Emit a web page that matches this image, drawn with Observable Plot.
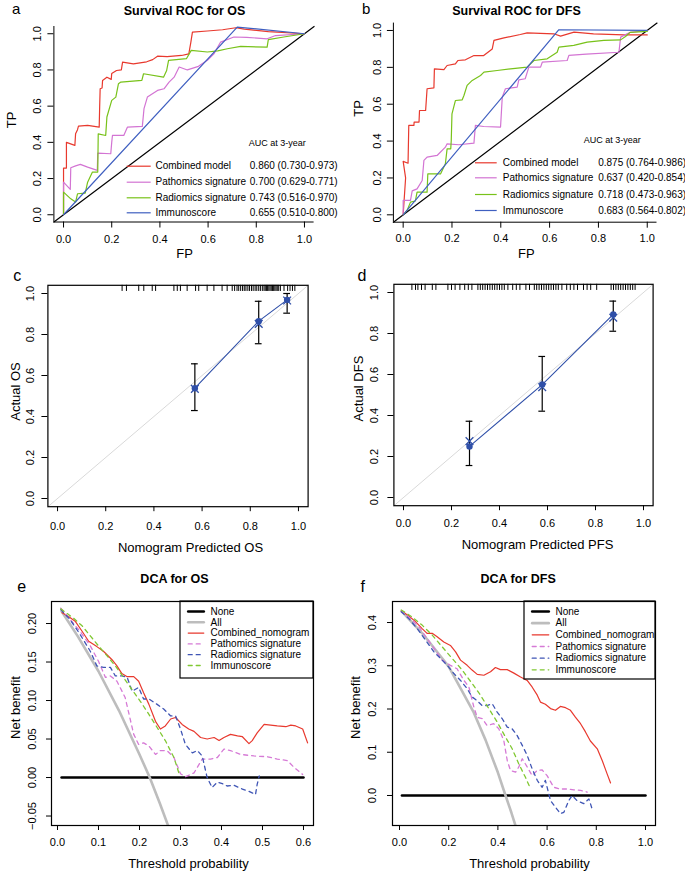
<!DOCTYPE html>
<html><head><meta charset="utf-8">
<script src="https://cdn.jsdelivr.net/npm/d3@7"></script>
<script src="https://cdn.jsdelivr.net/npm/@observablehq/plot@0.6"></script>
<style>
body{margin:0;background:#fff}
#root{position:relative;width:685px;height:872px;background:#fff;overflow:hidden}
#root svg{position:absolute;overflow:visible}
</style></head><body><div id="root"></div>
<script>
// ---------- DATA ----------
// Panel a: Survival ROC for OS  [FP, TP]
const rocOS_combined = [[0,0],[0,0.258],[0.012,0.258],[0.012,0.40],[0.047,0.383],[0.05,0.447],[0.058,0.47],[0.062,0.49],[0.10,0.494],[0.148,0.484],[0.15,0.60],[0.152,0.696],[0.16,0.70],[0.162,0.742],[0.18,0.76],[0.198,0.748],[0.20,0.78],[0.22,0.797],[0.24,0.80],[0.245,0.843],[0.29,0.834],[0.345,0.845],[0.37,0.857],[0.39,0.876],[0.43,0.874],[0.49,0.88],[0.52,0.889],[0.528,0.95],[0.535,1.009],[0.597,1.015],[0.66,1.022],[0.715,1.033],[0.75,1.025],[0.85,1.012],[1,1.0]];
const rocOS_pathomics = [[0,0],[0,0.18],[0.028,0.14],[0.03,0.26],[0.05,0.27],[0.07,0.278],[0.1,0.263],[0.14,0.245],[0.142,0.34],[0.196,0.337],[0.2,0.40],[0.203,0.438],[0.25,0.438],[0.265,0.484],[0.327,0.488],[0.334,0.586],[0.348,0.65],[0.39,0.687],[0.417,0.696],[0.438,0.733],[0.459,0.76],[0.48,0.816],[0.514,0.80],[0.56,0.82],[0.597,0.853],[0.624,0.889],[0.652,0.954],[0.707,0.982],[0.76,0.98],[0.845,0.972],[0.88,0.99],[1,1.0]];
const rocOS_radiomics = [[0,0],[0,0.125],[0.03,0.088],[0.05,0.07],[0.058,0.116],[0.09,0.12],[0.1,0.18],[0.12,0.236],[0.142,0.236],[0.144,0.447],[0.175,0.438],[0.18,0.54],[0.2,0.632],[0.217,0.65],[0.228,0.724],[0.238,0.733],[0.325,0.742],[0.332,0.779],[0.415,0.76],[0.428,0.797],[0.436,0.853],[0.51,0.862],[0.53,0.908],[0.597,0.899],[0.64,0.905],[0.68,0.917],[0.735,0.93],[0.845,0.926],[0.85,0.967],[0.914,0.982],[1,1.0]];
const rocOS_immuno = [[0,0],[0.721,1.037],[1,1.0]];
const legendOS_labels = ["Combined model","Pathomics signature","Radiomics signature","Immunoscore"];
const legendOS_auc = ["0.860 (0.730-0.973)","0.700 (0.629-0.771)","0.743 (0.516-0.970)","0.655 (0.510-0.800)"];

// Panel b: Survival ROC for DFS
const rocDFS_combined = [[0,0],[0.01,0.2],[0,0.29],[0.02,0.28],[0.023,0.485],[0.044,0.485],[0.045,0.503],[0.065,0.503],[0.067,0.566],[0.092,0.566],[0.098,0.684],[0.126,0.689],[0.128,0.792],[0.167,0.788],[0.18,0.81],[0.214,0.819],[0.224,0.837],[0.255,0.841],[0.29,0.864],[0.33,0.864],[0.365,0.9],[0.372,0.946],[0.413,0.96],[0.48,0.978],[0.508,0.987],[0.617,0.982],[0.645,0.969],[0.7,0.991],[0.78,0.982],[0.904,0.976],[1,0.976]];
const rocDFS_pathomics = [[0,0],[0,0.078],[0.03,0.078],[0.037,0.13],[0.057,0.141],[0.078,0.186],[0.085,0.295],[0.098,0.313],[0.139,0.322],[0.173,0.367],[0.18,0.385],[0.228,0.38],[0.29,0.389],[0.296,0.485],[0.33,0.479],[0.399,0.476],[0.406,0.638],[0.419,0.684],[0.467,0.693],[0.474,0.732],[0.5,0.738],[0.515,0.801],[0.563,0.801],[0.57,0.828],[0.672,0.837],[0.679,0.865],[0.75,0.872],[0.884,0.882],[0.891,0.964],[0.93,0.99],[1,1.0]];
const rocDFS_radiomics = [[0,0],[0.016,0.024],[0.03,0.069],[0.05,0.075],[0.057,0.123],[0.098,0.123],[0.101,0.222],[0.153,0.222],[0.173,0.277],[0.18,0.358],[0.195,0.358],[0.197,0.403],[0.2,0.548],[0.214,0.62],[0.242,0.624],[0.249,0.647],[0.262,0.702],[0.283,0.729],[0.317,0.756],[0.331,0.774],[0.385,0.783],[0.44,0.792],[0.508,0.801],[0.536,0.837],[0.59,0.846],[0.631,0.882],[0.638,0.91],[0.699,0.919],[0.754,0.937],[0.822,0.946],[0.891,0.949],[0.911,0.967],[0.93,0.99],[1,0.995]];
const rocDFS_immuno = [[0,0],[0.638,1.004],[1,1.0]];
const legendDFS_labels = ["Combined model","Pathomics signature","Radiomics signature","Immunoscore"];
const legendDFS_auc = ["0.875 (0.764-0.986)","0.637 (0.420-0.854)","0.718 (0.473-0.963)","0.683 (0.564-0.802)"];

// Panel c: calibration OS
const calOS_pred = [0.57, 0.835, 0.953];
const calOS_obs = [0.538, 0.865, 0.969];
const calOS_lo = [0.429, 0.755, 0.904];
const calOS_hi = [0.657, 0.962, 1.0];
const calOS_corr = [0.535, 0.852, 0.966];
const calOS_rug = [0.268,0.286,0.337,0.358,0.393,0.407,0.483,0.497,0.51,0.538,0.573,0.586,0.621,0.649,0.683,0.704,0.725,0.735,0.745,0.752,0.76,0.768,0.775,0.782,0.79,0.797,0.805,0.812,0.82,0.827,0.835,0.842,0.85,0.857,0.862,0.867,0.872,0.877,0.882,0.887,0.892,0.897,0.902,0.907,0.912,0.918,0.925,0.94,0.955,0.965,0.975,0.985];

// Panel d: calibration DFS
const calDFS_pred = [0.275, 0.578, 0.874];
const calDFS_obs = [0.249, 0.551, 0.893];
const calDFS_lo = [0.156, 0.421, 0.811];
const calDFS_hi = [0.372, 0.688, 0.958];
const calDFS_corr = [0.275, 0.538, 0.877];
const calDFS_rug = [0.035,0.05,0.06,0.075,0.09,0.12,0.135,0.185,0.2,0.215,0.235,0.255,0.27,0.285,0.31,0.32,0.33,0.34,0.35,0.36,0.37,0.38,0.39,0.40,0.41,0.42,0.435,0.455,0.47,0.485,0.51,0.525,0.545,0.555,0.565,0.575,0.585,0.595,0.605,0.615,0.625,0.635,0.645,0.66,0.68,0.695,0.71,0.725,0.75,0.765,0.78,0.805,0.865,0.875,0.885,0.895,0.905,0.915,0.925,0.935,0.945,0.955,0.965];

// Panel e: DCA for OS [threshold, net benefit]
const dcaOS_none = [[0.01,0],[0.6,0]];
const dcaOS_all = [[0.01,0.216],[0.05,0.183],[0.1,0.138],[0.15,0.087],[0.2,0.03],[0.225,0.0],[0.25,-0.034],[0.275,-0.07]];
const dcaOS_combined = [[0.011,0.214],[0.027,0.209],[0.043,0.203],[0.06,0.19],[0.076,0.177],[0.096,0.17],[0.112,0.164],[0.133,0.153],[0.145,0.145],[0.157,0.135],[0.17,0.131],[0.186,0.131],[0.198,0.125],[0.21,0.11],[0.223,0.095],[0.239,0.073],[0.251,0.063],[0.263,0.067],[0.276,0.076],[0.288,0.078],[0.304,0.069],[0.32,0.063],[0.333,0.06],[0.349,0.052],[0.365,0.05],[0.382,0.052],[0.394,0.048],[0.406,0.052],[0.422,0.056],[0.439,0.054],[0.451,0.053],[0.467,0.044],[0.475,0.048],[0.487,0.058],[0.504,0.069],[0.52,0.068],[0.536,0.067],[0.557,0.066],[0.569,0.068],[0.581,0.067],[0.598,0.063],[0.61,0.045]];
const dcaOS_pathomics = [[0.008,0.22],[0.031,0.205],[0.055,0.19],[0.08,0.171],[0.1,0.151],[0.117,0.13],[0.129,0.132],[0.145,0.125],[0.165,0.104],[0.186,0.056],[0.198,0.043],[0.21,0.045],[0.223,0.041],[0.239,0.03],[0.251,0.035],[0.267,0.035],[0.284,0.026],[0.3,0.005],[0.312,0.001],[0.333,0.006],[0.353,0.024],[0.373,0.024],[0.39,0.026],[0.406,0.037],[0.422,0.035],[0.447,0.03],[0.479,0.028],[0.512,0.027],[0.536,0.024],[0.561,0.022],[0.577,0.013],[0.598,0.004]];
const dcaOS_radiomics = [[0.008,0.218],[0.031,0.205],[0.055,0.186],[0.08,0.164],[0.096,0.145],[0.112,0.143],[0.129,0.143],[0.141,0.132],[0.157,0.132],[0.17,0.13],[0.182,0.112],[0.198,0.117],[0.21,0.102],[0.223,0.102],[0.243,0.095],[0.259,0.089],[0.276,0.08],[0.288,0.08],[0.3,0.063],[0.312,0.043],[0.329,0.032],[0.341,0.035],[0.353,0.028],[0.365,0.0],[0.377,-0.013],[0.39,-0.006],[0.402,-0.008],[0.414,-0.011],[0.43,-0.01],[0.451,-0.015],[0.467,-0.018],[0.483,-0.022],[0.487,-0.009],[0.492,0.002]];
const dcaOS_immuno = [[0.008,0.219],[0.039,0.207],[0.06,0.197],[0.08,0.184],[0.1,0.171],[0.121,0.158],[0.141,0.145],[0.161,0.13],[0.182,0.114],[0.202,0.099],[0.223,0.082],[0.243,0.065],[0.263,0.048],[0.284,0.026],[0.296,0.006]];

// Panel f: DCA for DFS
const dcaDFS_none = [[0.01,0],[1.0,0]];
const dcaDFS_all = [[0.01,0.425],[0.1,0.37],[0.2,0.298],[0.3,0.194],[0.35,0.128],[0.4,0.053],[0.431,0.0],[0.455,-0.04],[0.48,-0.085]];
const dcaDFS_combined = [[0.007,0.427],[0.038,0.415],[0.065,0.402],[0.092,0.386],[0.112,0.375],[0.133,0.375],[0.153,0.367],[0.18,0.355],[0.207,0.347],[0.228,0.332],[0.248,0.313],[0.275,0.301],[0.295,0.29],[0.316,0.28],[0.343,0.278],[0.37,0.286],[0.39,0.296],[0.41,0.291],[0.438,0.291],[0.465,0.283],[0.492,0.274],[0.519,0.266],[0.539,0.251],[0.56,0.232],[0.573,0.216],[0.593,0.211],[0.614,0.201],[0.634,0.197],[0.654,0.206],[0.675,0.203],[0.695,0.197],[0.715,0.181],[0.736,0.166],[0.756,0.147],[0.776,0.126],[0.804,0.108],[0.824,0.081],[0.844,0.05],[0.858,0.029]];
const dcaDFS_pathomics = [[0.007,0.427],[0.045,0.409],[0.079,0.39],[0.112,0.363],[0.146,0.336],[0.173,0.313],[0.207,0.301],[0.234,0.293],[0.262,0.266],[0.282,0.251],[0.302,0.205],[0.316,0.181],[0.336,0.178],[0.356,0.162],[0.383,0.166],[0.404,0.154],[0.424,0.127],[0.438,0.081],[0.451,0.058],[0.472,0.054],[0.485,0.066],[0.499,0.085],[0.519,0.066],[0.539,0.046],[0.56,0.058],[0.58,0.059],[0.6,0.046],[0.627,0.019],[0.654,0.015],[0.682,0.015],[0.709,0.013],[0.736,0.012],[0.763,0.008]];
const dcaDFS_radiomics = [[0.007,0.425],[0.038,0.409],[0.072,0.386],[0.106,0.359],[0.14,0.332],[0.167,0.317],[0.194,0.301],[0.221,0.282],[0.248,0.266],[0.275,0.247],[0.295,0.228],[0.316,0.219],[0.336,0.208],[0.356,0.208],[0.377,0.212],[0.397,0.193],[0.417,0.178],[0.438,0.158],[0.458,0.154],[0.478,0.139],[0.499,0.116],[0.519,0.093],[0.539,0.062],[0.56,0.035],[0.58,0.019],[0.593,0.035],[0.614,-0.012],[0.634,-0.027],[0.654,-0.042],[0.668,-0.039],[0.688,-0.012],[0.702,0.0],[0.722,-0.012],[0.749,-0.019],[0.77,-0.008],[0.783,-0.031]];
const dcaDFS_immuno = [[0.007,0.429],[0.051,0.413],[0.092,0.394],[0.133,0.371],[0.173,0.344],[0.214,0.317],[0.255,0.29],[0.295,0.259],[0.329,0.232],[0.363,0.201],[0.397,0.17],[0.431,0.135],[0.458,0.108],[0.485,0.073],[0.512,0.042],[0.533,0.015]];
const dcaLegend = ["None","All","Combined_nomogram","Pathomics signature","Radiomics signature","Immunoscore"];

// tick values
const ticks01 = [0,0.2,0.4,0.6,0.8,1.0];
const ticksE_x = [0,0.1,0.2,0.3,0.4,0.5,0.6];
const ticksE_y = [-0.05,0,0.05,0.10,0.15,0.20];
const ticksF_y = [0,0.1,0.2,0.3,0.4];

// ---------- STYLE ----------
const FONT = "'Liberation Sans', Arial, Helvetica, sans-serif";
const RED = "#e8392e", VIOLET = "#d374d3", GREEN = "#78c21a", BLUE = "#3f5fc0";
const DRED = "#e8392e", DVIOLET = "#d67ad6", DBLUE = "#3f55b5", DGREEN = "#80c832", GRAY = "#bdbdbd";
const CALBLUE = "#2f4fa8";

const root = document.getElementById("root");

function panel(g, build) {
  const inv = (px, py) => [
    g.xd[0] + (px - g.L) / (g.R - g.L) * (g.xd[1] - g.xd[0]),
    g.yd[1] - (py - g.T) / (g.B - g.T) * (g.yd[1] - g.yd[0])
  ];
  const txt = (s, px, py, o = {}) => Plot.text([s], {
    text: d => d, frameAnchor: "top-left", dx: px - g.L, dy: py - g.T,
    textAnchor: "middle", lineAnchor: "middle", fontSize: 13, fill: "black", ...o
  });
  const marks = build({inv, txt});
  const svg = Plot.plot({
    width: g.width, height: g.height,
    marginLeft: g.L - g.left, marginRight: g.left + g.width - g.R,
    marginTop: g.T - g.top, marginBottom: g.top + g.height - g.B,
    x: {domain: g.xd}, y: {domain: g.yd},
    style: {fontFamily: FONT, fontSize: "11px", color: "black", background: "transparent", overflow: "visible"},
    marks
  });
  svg.style.left = g.left + "px";
  svg.style.top = g.top + "px";
  root.appendChild(svg);
}

const f1 = d3.format(".1f"), f2 = d3.format(".2f");

function axes(g, xt, yt, o) {
  return [
    Plot.axisX({ticks: xt, tickSize: o.xs, tickPadding: o.xp, lineAnchor: "middle", tickFormat: o.xf, fontSize: 11, label: null}),
    Plot.axisY({ticks: yt, tickSize: o.ys, tickPadding: o.yp, tickRotate: -90, textAnchor: "middle", lineAnchor: "middle", tickFormat: o.yf, fontSize: 11, label: null})
  ];
}

// ---------- ROC panels ----------
function rocPanel(g, series, labels, aucs, L, titles) {
  panel(g, ({inv, txt}) => {
    const colors = [RED, VIOLET, GREEN, BLUE];
    const marks = [
      Plot.line([[g.xd[0], g.yd[0]], [g.xd[1], g.yd[1]]], {stroke: "black", strokeWidth: 1.2}),
      ...series.map((s, i) => Plot.line(s, {stroke: colors[i], strokeWidth: 1.2})),
      Plot.ruleX([g.xd[0]], {stroke: "black"}),
      Plot.ruleY([g.yd[0]], {stroke: "black"}),
      ...axes(g, ticks01, ticks01, {xs: 6, xp: L.xp, xf: f1, ys: 6, yp: L.yp, yf: f1})
    ];
    const rows = labels.map((lab, i) => {
      const [x1, y] = inv(L.lx1, L.rows[i]);
      const [x2] = inv(L.lx2, L.rows[i]);
      return {x1, x2, y, color: colors[i]};
    });
    marks.push(Plot.ruleY(rows, {x1: "x1", x2: "x2", y: "y", stroke: "color", strokeWidth: 1.2}));
    labels.forEach((lab, i) => {
      marks.push(txt(lab, L.tx, L.rows[i], {textAnchor: "start", fontSize: 10}));
      marks.push(txt(aucs[i], L.vx, L.rows[i], {textAnchor: "start", fontSize: 10}));
    });
    marks.push(txt("AUC at 3-year", L.hx, L.hy, {textAnchor: "start", fontSize: 9}));
    marks.push(txt(titles.letter, titles.lx, titles.ly, {textAnchor: "start", fontSize: 15}));
    marks.push(txt(titles.title, titles.tx, titles.ty, {fontWeight: "bold", fontSize: 12.5}));
    marks.push(txt("TP", titles.yx, titles.yy, {rotate: -90}));
    marks.push(txt("FP", titles.xx, titles.xy));
    return marks;
  });
}

const gA = {left: 0, top: 0, width: 340, height: 265, L: 53.4, R: 313.6, T: 26, B: 221.5, xd: [-0.04, 1.04], yd: [-0.04, 1.04]};
const gB = {left: 340, top: 0, width: 345, height: 265, L: 392.9, R: 656.5, T: 22.6, B: 221.7, xd: [-0.04, 1.04], yd: [-0.04, 1.04]};

rocPanel(gA, [rocOS_combined, rocOS_pathomics, rocOS_radiomics, rocOS_immuno], legendOS_labels, legendOS_auc,
  {xp: 11, yp: 10.7, lx1: 126.7, lx2: 150.7, tx: 155, vx: 249.3, hx: 248.3, hy: 142.7, rows: [165.7, 181.7, 197.3, 212.3]},
  {letter: "a", lx: 11.5, ly: 8.5, title: "Survival ROC for OS", tx: 184, ty: 10.5, yx: 11.7, yy: 119.5, xx: 184, xy: 253});
rocPanel(gB, [rocDFS_combined, rocDFS_pathomics, rocDFS_radiomics, rocDFS_immuno], legendDFS_labels, legendDFS_auc,
  {xp: 10.3, yp: 10.2, lx1: 475, lx2: 496.7, tx: 502.3, vx: 597.7, hx: 583.3, hy: 140, rows: [162.3, 177.3, 194, 210]},
  {letter: "b", lx: 361.5, ly: 8.5, title: "Survival ROC for DFS", tx: 516, ty: 10.5, yx: 358, yy: 108, xx: 525.8, xy: 253});

// ---------- Calibration panels ----------
function calPanel(g, pred, obs, lo, hi, corr, rug, o) {
  panel(g, ({inv, txt}) => {
    const pts = pred.map((p, i) => ({p, obs: obs[i], lo: lo[i], hi: hi[i], corr: corr[i]}));
    const cap = 0.014;
    const rugLen = 0.03;
    return [
      Plot.line([[g.xd[0], g.yd[0]], [g.xd[1], g.yd[1]]], {stroke: "#d9d9d9", strokeWidth: 1}),
      Plot.ruleX(rug, {x: d => d, y1: g.yd[1], y2: g.yd[1] - rugLen, stroke: "black", strokeWidth: 1}),
      Plot.ruleX(pts, {x: "p", y1: "lo", y2: "hi", stroke: "black", strokeWidth: 1.2}),
      Plot.ruleY(pts, {y: "lo", x1: d => d.p - cap, x2: d => d.p + cap, stroke: "black", strokeWidth: 1.2}),
      Plot.ruleY(pts, {y: "hi", x1: d => d.p - cap, x2: d => d.p + cap, stroke: "black", strokeWidth: 1.2}),
      Plot.line(pts, {x: "p", y: "obs", stroke: CALBLUE, strokeWidth: 1.1}),
      Plot.dot(pts, {x: "p", y: "obs", fill: CALBLUE, r: 3.2}),
      Plot.dot(pts, {x: "p", y: "corr", symbol: "times", stroke: CALBLUE, r: 3.6, strokeWidth: 1.3}),
      Plot.frame({stroke: "black", strokeWidth: 1.2}),
      ...axes(g, ticks01, ticks01, {xs: 5, xp: o.xp, xf: f1, ys: 6, yp: o.yp, yf: f1}),
      txt(o.letter, o.lx, o.ly, {textAnchor: "start", fontSize: 16}),
      txt(o.ylab, o.yx, o.yy, {rotate: -90}),
      txt(o.xlab, o.xx, o.xy)
    ];
  });
}

const gC = {left: 0, top: 265, width: 340, height: 300, L: 47.4, R: 307.6, T: 284.8, B: 506.2, xd: [-0.04, 1.04], yd: [-0.04, 1.04]};
const gD = {left: 340, top: 265, width: 345, height: 300, L: 393.4, R: 652.6, T: 283.8, B: 505.2, xd: [-0.04, 1.04], yd: [-0.04, 1.04]};

calPanel(gC, calOS_pred, calOS_obs, calOS_lo, calOS_hi, calOS_corr, calOS_rug,
  {xp: 15, yp: 11.4, letter: "c", lx: 12.7, ly: 274.9, ylab: "Actual OS", yx: 15, yy: 391, xlab: "Nomogram Predicted OS", xx: 190, xy: 547});
calPanel(gD, calDFS_pred, calDFS_obs, calDFS_lo, calDFS_hi, calDFS_corr, calDFS_rug,
  {xp: 13, yp: 13.2, letter: "d", lx: 357, ly: 274.9, ylab: "Actual DFS", yx: 358, yy: 388, xlab: "Nomogram Predicted PFS", xx: 537, xy: 544});

// ---------- DCA panels ----------
function dcaPanel(g, none, all, comb, path, rad, imm, xt, yt, yf, o) {
  panel(g, ({inv, txt}) => {
    const [bx1, by1] = inv(o.bx, o.by);
    const styles = [
      {stroke: "black", strokeWidth: 2.6},
      {stroke: GRAY, strokeWidth: 2.6},
      {stroke: DRED, strokeWidth: 1.2},
      {stroke: DVIOLET, strokeWidth: 1.3, strokeDasharray: "4,4"},
      {stroke: DBLUE, strokeWidth: 1.3, strokeDasharray: "4,4"},
      {stroke: DGREEN, strokeWidth: 1.3, strokeDasharray: "4,4"}
    ];
    const marks = [
      Plot.line(none, {...styles[0]}),
      Plot.line(all, {...styles[1], clip: true}),
      Plot.line(comb, {...styles[2], clip: true}),
      Plot.line(path, {...styles[3], clip: true}),
      Plot.line(rad, {...styles[4], clip: true}),
      Plot.line(imm, {...styles[5], clip: true}),
      Plot.rect([{x1: bx1, x2: g.xd[1], y1: by1, y2: g.yd[1]}], {x1: "x1", x2: "x2", y1: "y1", y2: "y2", fill: "white", stroke: "black", strokeWidth: 1.2})
    ];
    dcaLegend.forEach((lab, i) => {
      const py = o.r0 + i * o.rs;
      const [x1, y] = inv(o.lx1, py);
      const [x2] = inv(o.lx2, py);
      marks.push(Plot.line([[x1, y], [x2, y]], {...styles[i]}));
      marks.push(txt(lab, o.tx, py, {textAnchor: "start", fontSize: 10}));
    });
    marks.push(
      Plot.frame({stroke: "black", strokeWidth: 1.2}),
      ...axes(g, xt, yt, {xs: 5, xp: 12, xf: f1, ys: 5, yp: o.yp, yf}),
      txt(o.letter, o.lx, o.ly, {textAnchor: "start", fontSize: 16}),
      txt(o.title, o.ttx, 578.5, {fontWeight: "bold", fontSize: 12.5}),
      txt("Net benefit", o.yx, 707, {rotate: -90}),
      txt("Threshold probability", o.xx, 863)
    );
    return marks;
  });
}

const gE = {left: 0, top: 565, width: 340, height: 307, L: 51, R: 313, T: 601, B: 825, xd: [-0.0146, 0.6244], yd: [-0.0623, 0.2286]};
const gF = {left: 340, top: 565, width: 345, height: 307, L: 392, R: 655, T: 601, B: 825, xd: [-0.0285, 1.0407], yd: [-0.0694, 0.4486]};

dcaPanel(gE, dcaOS_none, dcaOS_all, dcaOS_combined, dcaOS_pathomics, dcaOS_radiomics, dcaOS_immuno, ticksE_x, ticksE_y, f2,
  {bx: 180, by: 678, lx1: 187.7, lx2: 203.3, tx: 210, r0: 611, rs: 10.8, yp: 14.3, letter: "e", lx: 16.7, ly: 586.6, title: "DCA for OS", ttx: 174, yx: 15, xx: 188});
dcaPanel(gF, dcaDFS_none, dcaDFS_all, dcaDFS_combined, dcaDFS_pathomics, dcaDFS_radiomics, dcaDFS_immuno, ticks01, ticksF_y, f1,
  {bx: 524, by: 679, lx1: 531.7, lx2: 548.3, tx: 555, r0: 611, rs: 11.67, yp: 15, letter: "f", lx: 360, ly: 586.6, title: "DCA for DFS", ttx: 517.6, yx: 355, xx: 529});
</script></body></html>
